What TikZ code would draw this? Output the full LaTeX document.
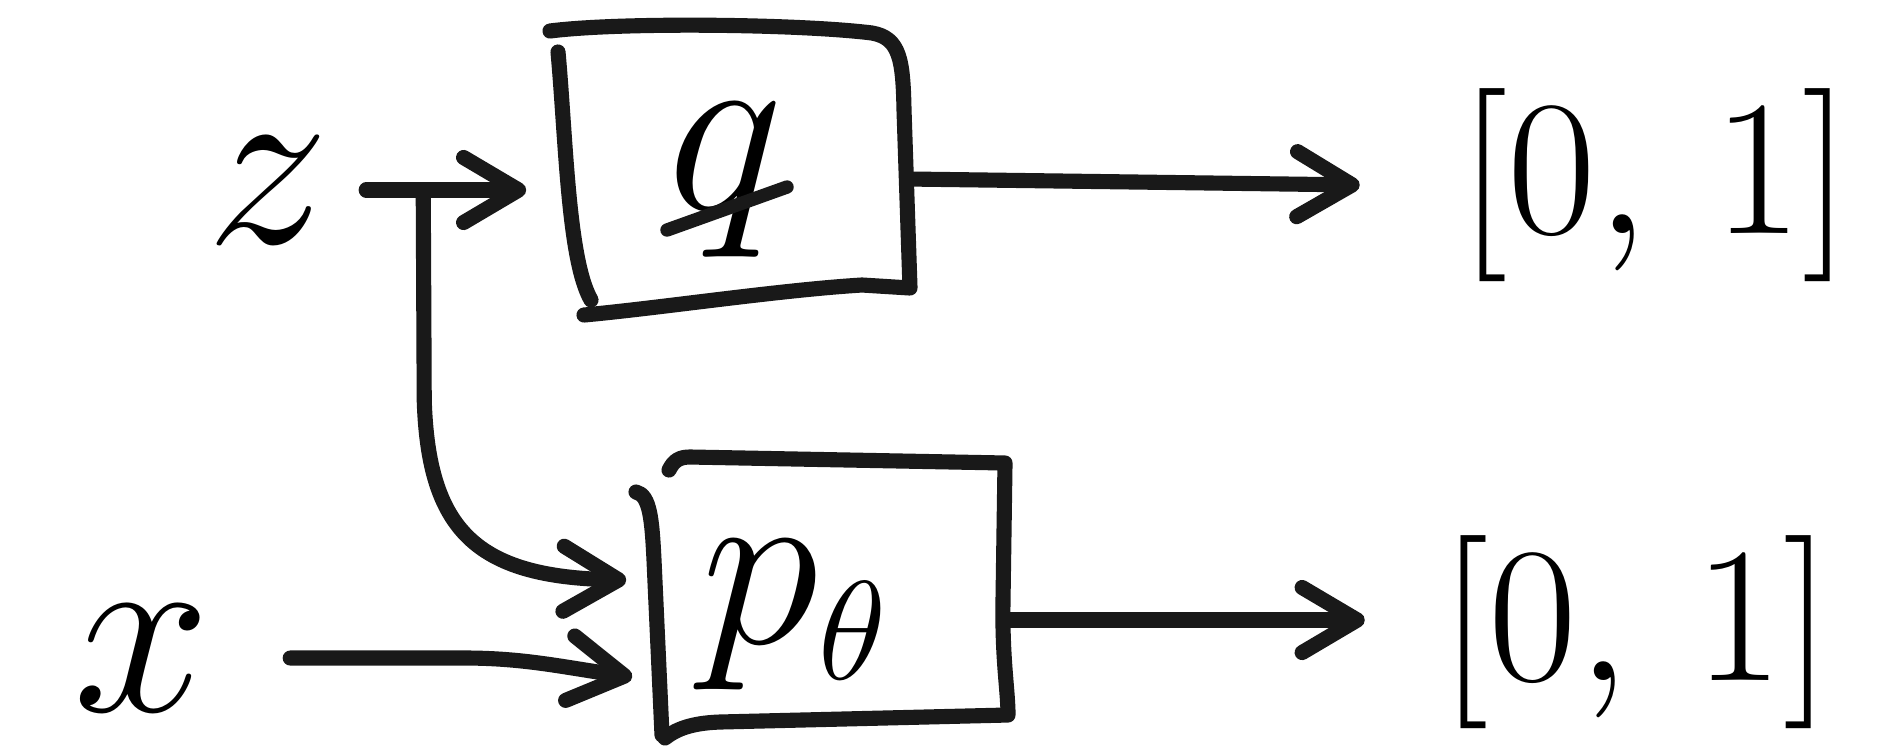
\documentclass[tikz,border=0pt]{standalone}
\usepackage{fix-cm}
\usetikzlibrary{arrows.meta,calc}
\newcommand{\smallsub}[1]{\mbox{\fontsize{40}{40}\selectfont$#1$}}
\begin{document}
\begin{tikzpicture}[x=0.01cm,y=-0.01cm,
  ink/.style={line width=4.3pt, line cap=round, line join=round, black!90},
  arr/.style={ink, -{Straight Barb[length=5.5mm,width=6.5mm,round]}},
  lbl/.style={inner sep=0pt, font=\fontsize{70}{70}\selectfont},
  interval/.style={inner sep=0pt, font=\fontsize{55}{55}\selectfont},
  blk/.style={inner sep=0pt, minimum width=3.5cm, minimum height=2.7cm}]
\useasboundingbox (0,0) rectangle (1895,751);
\fill[white] (0,0) rectangle (1895,751);

% inputs, blocks and outputs
\node[lbl] (z) at (268,190) {$z$};
\node[lbl] (x) at (142,658) {$x$};
\node[blk] (qbox) at (733,168) {};
\node[lbl] (q) at (725,180) {$q$};
\node[blk, minimum width=3.6cm, minimum height=2.65cm] (pbox) at (830,595) {};
\node[lbl, font=\fontsize{68}{68}\selectfont] (p) at (795,615) {$p_{\smallsub{\theta}}$};
\node[interval] (out1) at (1655,185) {$[0,\,1]$};
\node[interval] (out2) at (1636,632) {$[0,\,1]$};

% hand-drawn block outlines
\draw[ink] (550,31) .. controls (620,22) and (800,24) .. (872,33)
  .. controls (900,38) and (903,60) .. (904,110) -- (910,288) -- (862,285)
  .. controls (780,290) and (660,308) .. (584,315);
\draw[ink] (558,52) .. controls (566,140) and (568,260) .. (591,300);
\draw[ink] (669,470) .. controls (674,460) and (680,457) .. (690,457) -- (1005,463)
  -- (1003,600) .. controls (1002,660) and (1008,690) .. (1008,715)
  -- (720,722) .. controls (690,723) and (675,730) .. (665,738);
\draw[ink] (636,492) .. controls (650,495) and (652,520) .. (654,560) -- (662,735);

% stroke through the q
\draw[ink, line width=3.8pt] ([shift={(-0.58cm,-0.5cm)}]q.center) -- ([shift={(0.62cm,-0.07cm)}]q.center);

% connectors
\coordinate (zs) at ([xshift=0.36cm]z.east);
\coordinate (qt) at ([xshift=-0.31cm]qbox.west);
\coordinate (br) at ([xshift=0.93cm]z.east);
\draw[arr] (zs) -- (zs -| qt);
\draw[arr] (br) -- ++(1,210) .. controls +(4,130) and +(-150,-3)
  .. ([xshift=-0.23cm,yshift=0.15cm]pbox.west);
\draw[arr] ([xshift=0.79cm]x.east) -- ++(174,0) .. controls +(60,0) and +(-70,-10)
  .. ([xshift=-0.17cm,yshift=-0.82cm]pbox.west);
\coordinate (o1s) at ([yshift=-0.11cm]qbox.east);
\draw[arr] (o1s) -- ([xshift=-0.99cm]out1.west);
\coordinate (o2s) at ([yshift=-0.25cm]pbox.east);
\coordinate (o2e) at ([xshift=-0.75cm]out2.west);
\draw[arr] (o2s) -- (o2s -| o2e);
\end{tikzpicture}
\end{document}
